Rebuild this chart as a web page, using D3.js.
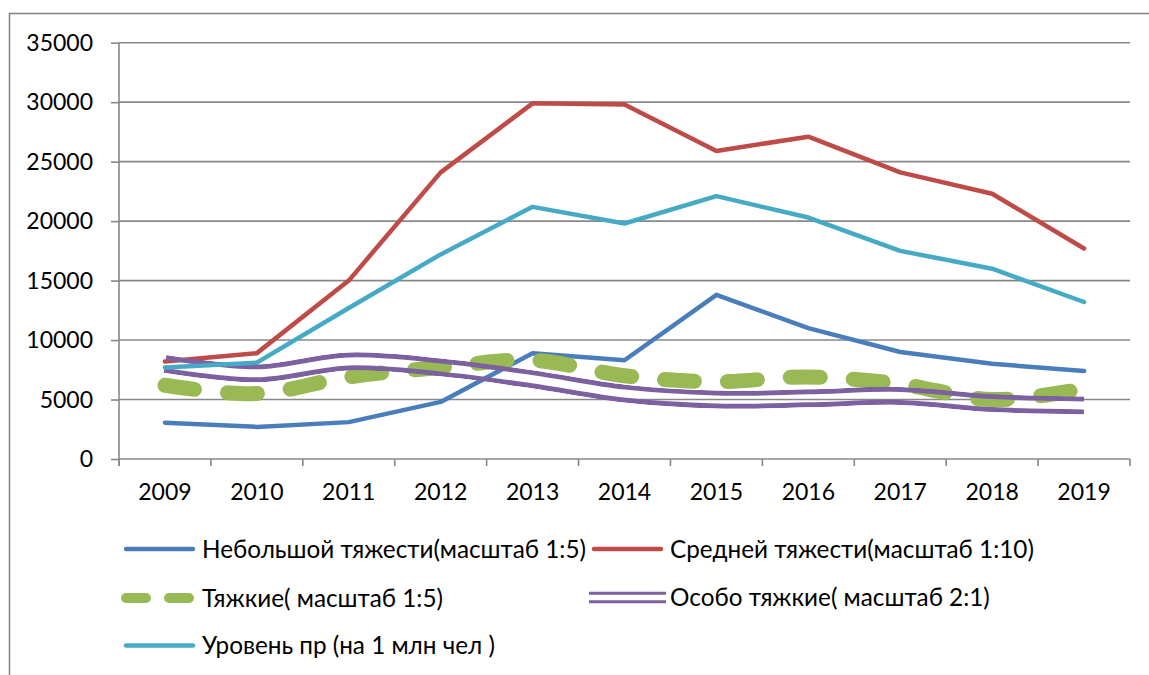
<!DOCTYPE html>
<html>
<head>
<meta charset="utf-8">
<script src="https://cdn.jsdelivr.net/npm/d3@7/dist/d3.min.js"></script>
<style>
  html, body { margin: 0; padding: 0; background: #fff; }
  svg { display: block; }
  text { font-family: Lato, "Open Sans", sans-serif; fill: #000; }
</style>
</head>
<body>
<svg id="chart" width="1149" height="675"></svg>
<script>
// Years on the category axis
const years = ["2009", "2010", "2011", "2012", "2013", "2014", "2015", "2016", "2017", "2018", "2019"];

// Series values
const minorCrimes   = [3050, 2700, 3100, 4800, 8900, 8300, 13800, 11000, 9000, 8000, 7400];
const mediumCrimes  = [8200, 8900, 15000, 24100, 29900, 29800, 25900, 27100, 24100, 22300, 17700];
const graveCrimes   = [6200, 5500, 6900, 7700, 8300, 7000, 6500, 6900, 6300, 5000, 5900];
const especially    = [8000, 7200, 8200, 7700, 6700, 5500, 5000, 5100, 5300, 4700, 4500];
const crimeRate     = [7700, 8100, 12700, 17200, 21200, 19800, 22100, 20300, 17500, 16000, 13200];

// Value-axis ticks
const yTicks = [0, 5000, 10000, 15000, 20000, 25000, 30000, 35000];

// Legend labels
const labels = {
  minor: "Небольшой тяжести(масштаб 1:5)",
  medium: "Средней тяжести(масштаб 1:10)",
  grave: "Тяжкие( масштаб 1:5)",
  especially: "Особо тяжкие( масштаб 2:1)",
  rate: "Уровень пр (на 1 млн чел )"
};

const colors = {
  minor: "#4A7EBB",
  medium: "#BE4B48",
  grave: "#98B954",
  especially: "#7D60A0",
  rate: "#46AAC5"
};

const svg = d3.select("#chart");
const gridColor = "#878787";
const plotLeft = 119, plotRight = 1130, plotTop = 42.7, plotBottom = 459;

const x = d3.scaleBand().domain(years).range([plotLeft, plotRight]);
const y = d3.scaleLinear().domain([0, 35000]).range([plotBottom, plotTop]);
const cx = d => x(d) + x.bandwidth() / 2;

// Chart frame
svg.append("rect")
  .attr("x", 9.5).attr("y", 13.5)
  .attr("width", 1160).attr("height", 700)
  .attr("fill", "none").attr("stroke", gridColor).attr("stroke-width", 1.6);

// Horizontal gridlines
svg.append("g").selectAll("line")
  .data(yTicks.filter(v => v > 0))
  .join("line")
  .attr("x1", plotLeft).attr("x2", plotRight)
  .attr("y1", d => y(d)).attr("y2", d => y(d))
  .attr("stroke", gridColor).attr("stroke-width", 1.6);

// Value axis
const yAxis = svg.append("g")
  .attr("transform", `translate(${plotLeft},0)`)
  .call(d3.axisLeft(y).tickValues(yTicks).tickSize(8).tickPadding(18).tickFormat(d3.format("d")));
yAxis.select(".domain").attr("stroke", gridColor).attr("stroke-width", 1.6)
  .attr("d", `M0,${plotTop}V${plotBottom + 7}`);
yAxis.selectAll(".tick line").attr("stroke", gridColor).attr("stroke-width", 1.6);
yAxis.selectAll(".tick text").attr("font-size", 23).attr("dy", "0.34em")
  .style("font-family", "Lato, 'Open Sans', sans-serif");

// Category axis: labels centred in bands, tick marks on band boundaries
const xAxis = svg.append("g")
  .attr("transform", `translate(0,${plotBottom})`)
  .call(d3.axisBottom(x).tickSize(0).tickPadding(25));
xAxis.select(".domain").remove();
xAxis.selectAll(".tick text").attr("font-size", 23).attr("dy", "0.71em")
  .style("font-family", "Lato, 'Open Sans', sans-serif");

svg.append("line")
  .attr("x1", plotLeft).attr("x2", plotRight)
  .attr("y1", plotBottom).attr("y2", plotBottom)
  .attr("stroke", gridColor).attr("stroke-width", 1.6);
svg.append("g").selectAll("line")
  .data(years.map(d => x(d)).concat([plotRight]))
  .join("line")
  .attr("x1", d => d).attr("x2", d => d)
  .attr("y1", plotBottom).attr("y2", plotBottom + 7)
  .attr("stroke", gridColor).attr("stroke-width", 1.6);

// Line generators
const straight = d3.line().x((d, i) => cx(years[i])).y(d => y(d));
const smooth = d3.line().x((d, i) => cx(years[i])).y(d => y(d)).curve(d3.curveCatmullRom.alpha(0.5));

const plot = svg.append("g");

// Небольшой тяжести
plot.append("path").attr("d", straight(minorCrimes))
  .attr("fill", "none").attr("stroke", colors.minor).attr("stroke-width", 4.5)
  .attr("stroke-linejoin", "round").attr("stroke-linecap", "round");

// Средней тяжести
plot.append("path").attr("d", straight(mediumCrimes))
  .attr("fill", "none").attr("stroke", colors.medium).attr("stroke-width", 4.5)
  .attr("stroke-linejoin", "round").attr("stroke-linecap", "round");

// Тяжкие — thick rounded dashes
plot.append("path").attr("d", smooth(graveCrimes))
  .attr("fill", "none").attr("stroke", colors.grave).attr("stroke-width", 15)
  .attr("stroke-dasharray", "30 33")
  .attr("stroke-linejoin", "round").attr("stroke-linecap", "round");

// Особо тяжкие — double (compound) line with a transparent gap
const defs = svg.append("defs");
const mask = defs.append("mask").attr("id", "doubleLine")
  .attr("maskUnits", "userSpaceOnUse")
  .attr("x", 0).attr("y", 0).attr("width", 1149).attr("height", 675);
mask.append("path").attr("d", smooth(especially))
  .attr("fill", "none").attr("stroke", "#fff").attr("stroke-width", 18);
mask.append("path").attr("d", smooth(especially))
  .attr("fill", "none").attr("stroke", "#000").attr("stroke-width", 8);
plot.append("path").attr("d", smooth(especially))
  .attr("fill", "none").attr("stroke", colors.especially).attr("stroke-width", 18)
  .attr("mask", "url(#doubleLine)");

// Уровень преступности
plot.append("path").attr("d", straight(crimeRate))
  .attr("fill", "none").attr("stroke", colors.rate).attr("stroke-width", 4.5)
  .attr("stroke-linejoin", "round").attr("stroke-linecap", "round");

// Legend: swatch span [x1, x2], text start tx, row centre ty
const legend = svg.append("g");
const legendItems = [
  { key: "minor", x1: 126, x2: 193, tx: 202, ty: 549, style: "solid" },
  { key: "medium", x1: 594, x2: 661, tx: 670, ty: 549, style: "solid" },
  { key: "grave", x1: 126, x2: 190, tx: 202, ty: 598, style: "dash" },
  { key: "especially", x1: 589, x2: 666, tx: 670, ty: 597.5, style: "double" },
  { key: "rate", x1: 126, x2: 193, tx: 202, ty: 645.5, style: "solid" }
];

legendItems.forEach(it => {
  const g = legend.append("g");
  const c = colors[it.key];
  if (it.style === "solid") {
    g.append("line").attr("x1", it.x1).attr("x2", it.x2)
      .attr("y1", it.ty).attr("y2", it.ty)
      .attr("stroke", c).attr("stroke-width", 4.5).attr("stroke-linecap", "round");
  } else if (it.style === "dash") {
    g.append("line").attr("x1", it.x1).attr("x2", it.x2)
      .attr("y1", it.ty).attr("y2", it.ty)
      .attr("stroke", c).attr("stroke-width", 10).attr("stroke-linecap", "round")
      .attr("stroke-dasharray", "20 23");
  } else {
    [-4.2, 4.2].forEach(off => {
      g.append("line").attr("x1", it.x1).attr("x2", it.x2)
        .attr("y1", it.ty + off).attr("y2", it.ty + off)
        .attr("stroke", c).attr("stroke-width", 3);
    });
  }
  g.append("text")
    .attr("x", it.tx)
    .attr("y", it.ty).attr("dy", "0.35em")
    .attr("font-size", 24.3)
    .text(labels[it.key]);
});
</script>
</body>
</html>
